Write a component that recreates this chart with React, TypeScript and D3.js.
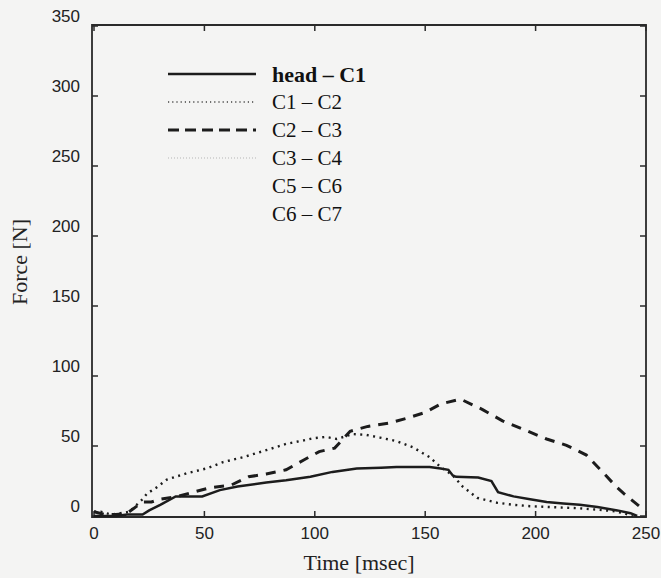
import React from "react";
import * as d3 from "d3";

const W = 661;
const H = 578;

const xTicks = [0, 50, 100, 150, 200, 250];
const yTicks = [0, 50, 100, 150, 200, 250, 300, 350];

const legendLabels = ["head – C1", "C1 – C2", "C2 – C3", "C3 – C4", "C5 – C6", "C6 – C7"];

// head – C1 (solid)
const headC1Time = [0, 10, 15, 22, 25, 30, 37, 49, 57, 65, 78, 87, 98, 108, 119, 130, 137, 152, 157, 160.5, 162.5, 164, 174, 180, 183, 190, 197.5, 205, 212.5, 220, 228, 237, 243, 246];
const headC1Force = [0, 0, 1, 1, 4, 8, 14, 14, 18.5, 21, 24, 25.5, 28, 31.5, 34, 34.5, 35, 35, 34, 33, 29, 28, 27.5, 25, 17, 14, 12, 10, 9, 8, 6.5, 4, 2, 0];

// C1 – C2 (dotted)
const c1c2Time = [0, 3, 8, 12, 16, 18, 22, 24, 28, 33, 42, 51, 58.5, 67.5, 78, 87, 95, 99, 105, 110, 117, 123, 129.5, 137, 144.5, 152, 157, 162.5, 167, 173.5, 182.5, 190, 197.5, 205, 212.5, 220, 228, 235, 240, 244];
const c1c2Force = [3, 3, 1, 2, 3, 6, 12, 16, 20, 26, 30.5, 34, 38.5, 42, 47, 51.5, 54, 55.5, 56.5, 55, 58.5, 58, 56, 53.5, 49, 42, 35, 29, 21, 13, 9.5, 8, 7, 6.5, 6, 5.5, 4.5, 3.5, 2, 0];

// C2 – C3 (dashed)
const c2c3Time = [0, 5, 10, 15, 22, 26, 30, 38, 52, 62, 70, 78, 87, 95, 102, 109, 116, 124, 134, 142, 150, 157, 166, 176, 185, 195, 205, 214, 223, 230, 236.5, 240, 248.5];
const c2c3Force = [3, 1, 1, 2, 10, 10, 12, 14, 20, 22, 28, 30, 33, 40, 46, 48.5, 60.5, 64, 66.5, 70, 74, 80, 83.5, 76, 68, 61.5, 55, 50.5, 43.5, 32, 21, 16, 5];

const x = d3.scaleLinear().domain([0, 250]).range([94, 646]);
const y = d3.scaleLinear().domain([0, 350]).range([516, 26]);

const line = d3
  .line<[number, number]>()
  .x((d) => x(d[0]))
  .y((d) => y(d[1]));

const zip = (t: number[], f: number[]): [number, number][] => t.map((v, i) => [v, f[i]]);

const INK = "#1c1c1c";

export default function App() {
  const left = 92;
  const right = 646;
  const top = 25;
  const bottom = 517;

  const legendStyles = [
    { dash: "none", width: 2.6, color: INK },
    { dash: "1.2 3", width: 1.3, color: "#444" },
    { dash: "11 6", width: 3, color: INK },
    { dash: "1 2", width: 1, color: "#b5b5b5" },
    null,
    null,
  ];

  return (
    <svg
      width={W}
      height={H}
      style={{ position: "absolute", left: 0, top: 0, background: "#f4f4f3" }}
    >
      <rect x={0} y={0} width={W} height={H} fill="#f4f4f3" />

      {/* frame */}
      <path
        d={`M${left},${bottom} L${left},${top} L${right},${top} L${right},${bottom} Z`}
        fill="none"
        stroke="#2a2a2a"
        strokeWidth={1.8}
      />

      {/* x ticks */}
      {xTicks.map((t) => (
        <g key={"xt" + t}>
          <line x1={x(t)} x2={x(t)} y1={bottom} y2={bottom - 6} stroke="#2a2a2a" strokeWidth={1.5} />
          <line x1={x(t)} x2={x(t)} y1={top} y2={top + 6} stroke="#2a2a2a" strokeWidth={1.5} />
          <text
            x={x(t)}
            y={539}
            textAnchor="middle"
            fontFamily="'Liberation Sans', Arial, sans-serif"
            fontSize={17}
            fill="#222"
          >
            {t}
          </text>
        </g>
      ))}

      {/* y ticks */}
      {yTicks.map((v) => (
        <g key={"yt" + v}>
          <line x1={left} x2={left + 6} y1={y(v)} y2={y(v)} stroke="#2a2a2a" strokeWidth={1.5} />
          <line x1={right} x2={right - 6} y1={y(v)} y2={y(v)} stroke="#2a2a2a" strokeWidth={1.5} />
          <text
            x={80}
            y={y(v) - 10}
            textAnchor="end"
            dominantBaseline="central"
            fontFamily="'Liberation Sans', Arial, sans-serif"
            fontSize={17}
            fill="#222"
          >
            {v}
          </text>
        </g>
      ))}

      {/* axis titles */}
      <text
        x={359}
        y={570}
        textAnchor="middle"
        fontFamily="'Liberation Serif', 'Times New Roman', serif"
        fontSize={22}
        fill="#222"
      >
        Time [msec]
      </text>
      <text
        transform="translate(27,262) rotate(-90)"
        textAnchor="middle"
        fontFamily="'Liberation Serif', 'Times New Roman', serif"
        fontSize={22}
        fill="#222"
      >
        Force [N]
      </text>

      {/* data */}
      <path d={line(zip(c1c2Time, c1c2Force)) || ""} fill="none" stroke={INK} strokeWidth={2.4} strokeDasharray="2 4.5" strokeLinecap="butt" />
      <path d={line(zip(c2c3Time, c2c3Force)) || ""} fill="none" stroke={INK} strokeWidth={3} strokeDasharray="10 8" />
      <path d={line(zip(headC1Time, headC1Force)) || ""} fill="none" stroke={INK} strokeWidth={2.5} />

      {/* legend */}
      {legendLabels.map((lab, i) => {
        const ly = 74 + i * 28;
        const st = legendStyles[i];
        return (
          <g key={lab}>
            {st && (
              <line
                x1={168}
                x2={256}
                y1={ly}
                y2={ly}
                stroke={st.color}
                strokeWidth={st.width}
                strokeDasharray={st.dash}
              />
            )}
            <text
              x={272}
              y={ly}
              dominantBaseline="central"
              fontFamily="'Liberation Serif', 'Times New Roman', serif"
              fontSize={i === 0 ? 22 : 21}
              fontWeight={i === 0 ? "bold" : "normal"}
              fill="#111"
            >
              {lab}
            </text>
          </g>
        );
      })}
    </svg>
  );
}
